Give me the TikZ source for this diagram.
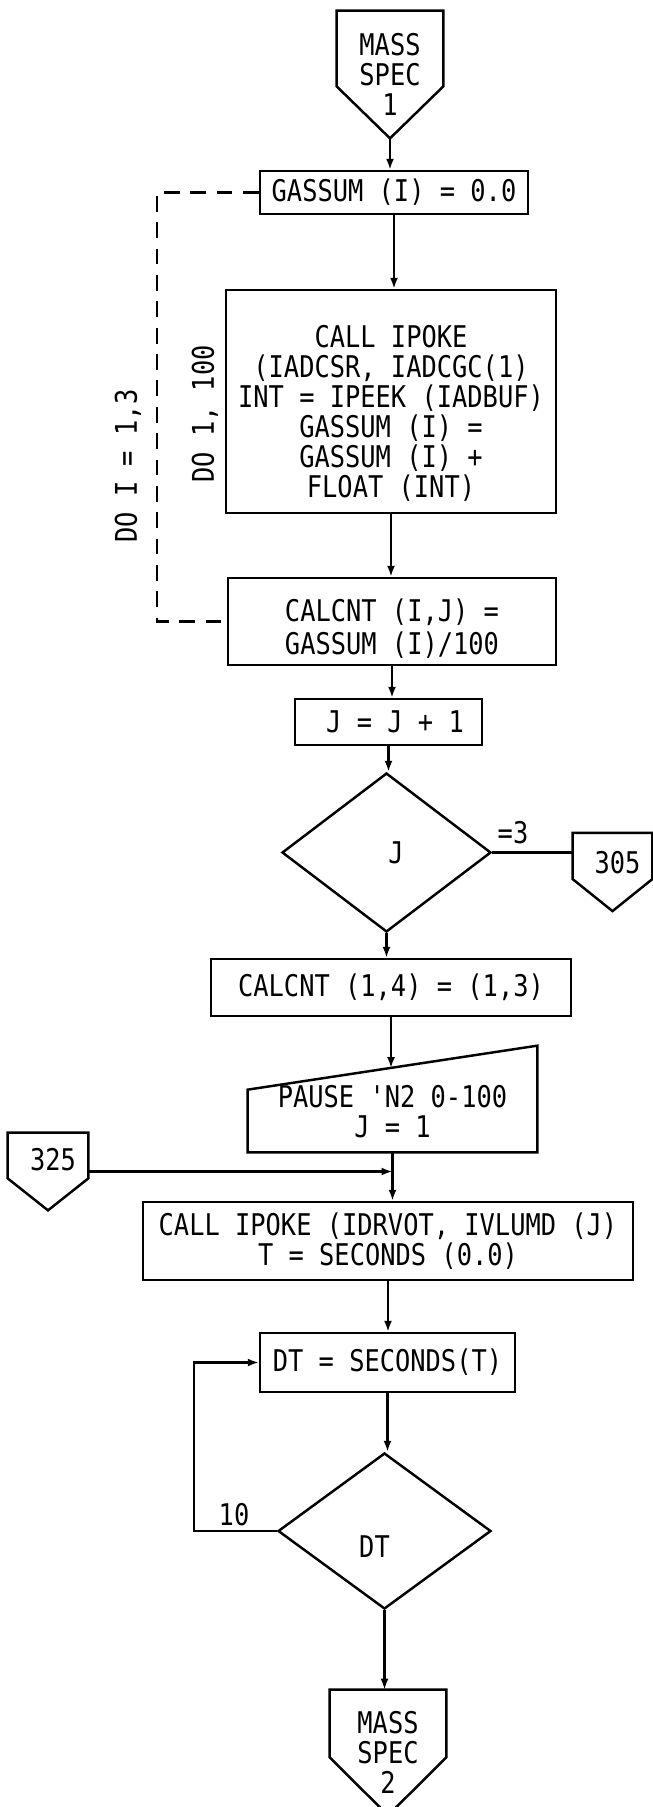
\documentclass[tikz,border=0pt]{standalone}
\usepackage{fontspec}
\newfontfamily\flowfont{DejaVu Sans Mono}[FakeStretch=0.85]
\usepackage{tikz}
\usetikzlibrary{arrows.meta, calc, positioning, shapes.geometric}

\tikzset{
  proc/.style={draw, line width=1.4pt, rectangle, align=center, inner sep=2pt},
  cond/.style={draw, line width=1.4pt, diamond, inner sep=0pt},
  offpg/.style={rectangle, align=center, inner sep=0pt},
  txt/.style={align=center, inner sep=1pt},
  flow/.style={line width=1.2pt, -{Latex[length=2.2mm,width=1.6mm]}},
  loopline/.style={line width=1.2pt, dash pattern=on 9pt off 6pt},
}

\begin{document}
\begin{tikzpicture}[font=\flowfont\fontsize{17}{17}\selectfont]
\useasboundingbox (0,0) rectangle (13.06,-36.14);

% Entry connector
\node[offpg, minimum width=2.12cm, minimum height=2.54cm] (ms1) at (7.8,-1.49) {MASS\\SPEC\\1};
\draw[line width=1.4pt] (ms1.north west) -- (ms1.north east) -- ([yshift=1.04cm]ms1.south east)
  -- (ms1.south) -- ([yshift=1.04cm]ms1.south west) -- cycle;

% Summation loop
\node[proc, minimum width=5.36cm, minimum height=0.86cm] (gassum) at (7.88,-3.85) {GASSUM (I) = 0.0};
\node[proc, minimum width=6.6cm, minimum height=4.46cm] (ipoke) at (7.82,-8.03) {};
\node[txt] (ipoke-t) at ([yshift=-0.24cm]ipoke.center)
  {CALL IPOKE\\(IADCSR, IADCGC(1)\\INT = IPEEK (IADBUF)\\GASSUM (I) =\\GASSUM (I) +\\FLOAT (INT)};
\node[proc, minimum width=6.56cm, minimum height=1.74cm] (calcnt) at (7.84,-12.43) {};
\node[txt, font=\flowfont\fontsize{17}{19}\selectfont] (calcnt-t) at ([yshift=-0.14cm]calcnt.center)
  {CALCNT (I,J) =\\GASSUM (I)/100};
\node[rotate=90] (do100) at (4.1,-8.28) {DO 1, 100};
\node[rotate=90] (doi) at (2.56,-9.32) {DO I = 1,3};

% Counter test
\node[proc, minimum width=3.74cm, minimum height=0.92cm] (jinc) at (7.77,-14.44) {};
\node[txt] (jinc-t) at ([xshift=0.13cm]jinc.center) {J = J + 1};
\node[cond, minimum width=4.18cm, minimum height=3.18cm] (jtest) at (7.73,-17.05) {};
\node[txt] (jtest-t) at ([xshift=0.19cm]jtest.center) {J};
\node (eq3) at (10.26,-16.66) {=3};
\node[offpg, minimum width=1.58cm, minimum height=1.55cm] (c305) at (12.25,-17.44) {};
\node[txt] (c305-t) at ([xshift=0.1cm,yshift=0.18cm]c305.center) {305};
\draw[line width=1.4pt] (c305.north west) -- (c305.north east) -- ([yshift=0.64cm]c305.south east)
  -- (c305.south) -- ([yshift=0.64cm]c305.south west) -- cycle;

\node[proc, minimum width=7.2cm, minimum height=1.14cm] (calc14) at (7.82,-19.75) {CALCNT (1,4) = (1,3)};

% Manual input
\node[offpg, minimum width=5.78cm, minimum height=1.6cm] (pause) at (7.85,-22.24) {PAUSE 'N2 0-100\\J = 1};
\coordinate (ptl) at ([yshift=-0.36cm]pause.north west);
\coordinate (ptr) at ([yshift=0.52cm]pause.north east);
\coordinate (pin) at ($(ptl)!0.49!(ptr)$);
\draw[line width=1.4pt] (pause.south west) -- (pause.south east) -- (ptr) -- (ptl) -- cycle;

\node[offpg, minimum width=1.6cm, minimum height=1.54cm] (c325) at (0.96,-23.43) {};
\node[txt] (c325-t) at ([xshift=0.1cm,yshift=0.23cm]c325.center) {325};
\draw[line width=1.4pt] (c325.north west) -- (c325.north east) -- ([yshift=0.64cm]c325.south east)
  -- (c325.south) -- ([yshift=0.64cm]c325.south west) -- cycle;

% Timing loop
\node[proc, minimum width=9.8cm, minimum height=1.56cm] (ipoke2) at (7.76,-24.82) {CALL IPOKE (IDRVOT, IVLUMD (J)\\T = SECONDS (0.0)};
\node[proc, minimum width=5.1cm, minimum height=1.18cm] (dtbox) at (7.75,-27.25) {DT = SECONDS(T)};
\node[cond, minimum width=4.26cm, minimum height=3.12cm] (dttest) at (7.69,-30.62) {};
\node[txt] (dttest-t) at ([xshift=-0.2cm,yshift=-0.32cm]dttest.center) {DT};
\node (ten) at (4.68,-30.3) {10};

% Exit connector
\node[offpg, minimum width=2.32cm, minimum height=2.5cm] (ms2) at (7.76,-35.05) {MASS\\SPEC\\2};
\draw[line width=1.4pt] (ms2.north west) -- (ms2.north east) -- ([yshift=1.16cm]ms2.south east)
  -- (ms2.south) -- ([yshift=1.16cm]ms2.south west) -- cycle;

% Flow lines
\draw[flow] (ms1.south) -- (ms1.south |- gassum.north);
\draw[flow] (gassum.south) -- (gassum.south |- ipoke.north);
\draw[flow] (ipoke.south) -- (ipoke.south |- calcnt.north);
\draw[flow] (calcnt.south) -- (calcnt.south |- jinc.north);
\draw[flow] (jinc.south) -- (jinc.south |- jtest.north);
\draw[flow] (jtest.south) -- (jtest.south |- calc14.north);
\draw[line width=1.2pt] (jtest.east) -- (jtest.east -| c305.west);
\draw[flow] (calc14.south) -- (calc14.south |- pin);
\draw[flow] (pause.south) -- (pause.south |- ipoke2.north);
\draw[flow] (c325.east) -- (c325.east -| pause.south);
\draw[flow] (ipoke2.south) -- (ipoke2.south |- dtbox.north);
\draw[flow] (dtbox.south) -- (dtbox.south |- dttest.north);
\draw[flow] (dttest.west) -- ++(-1.66,0) |- (dtbox.west);
\draw[flow] (dttest.south) -- (dttest.south |- ms2.north);

% Outer loop
\draw[loopline] (gassum.west) -- ++(-2.04,0) |- (calcnt.west);
\end{tikzpicture}
\end{document}
